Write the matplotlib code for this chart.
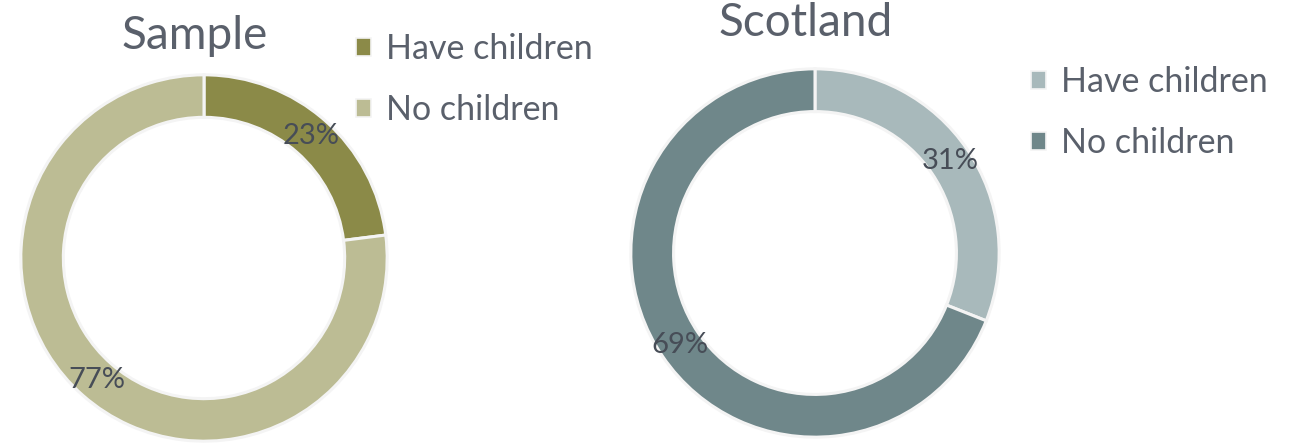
import matplotlib
matplotlib.use("Agg")
import matplotlib.pyplot as plt
from matplotlib.patches import Patch

plt.rcParams['font.family'] = ['Lato', 'DejaVu Sans']

categories = ["Have children", "No children"]
sample_values = [23, 77]
scotland_values = [31, 69]
titles = ["Sample", "Scotland"]

sample_colors = ["#8B8A48", "#BCBC94"]
scotland_colors = ["#A8B9BB", "#6F878A"]

TEXT = "#5A606B"
LABEL = "#474D57"

W, H = 1299, 446
fig = plt.figure(figsize=(W / 100, H / 100), dpi=100)


def px_axes(left, top, size):
    return fig.add_axes([left / W, (H - top - size) / H, size / W, size / H])


def donut(ax, values, colors):
    wedges, _, autotexts = ax.pie(
        values, colors=colors, startangle=90, counterclock=False,
        radius=1.0, autopct=lambda p: f"{p:.0f}%", pctdistance=0.885,
        wedgeprops=dict(width=0.232, edgecolor="#F4F4F4", linewidth=2.2),
        textprops=dict(fontsize=21, color=LABEL),
    )
    ax.set_xlim(-1.01, 1.01)
    ax.set_ylim(-1.01, 1.01)
    ax.set_aspect("equal")
    ax.axis("off")
    return wedges


ax1 = px_axes(19, 73, 370)
donut(ax1, sample_values, sample_colors)
ax2 = px_axes(629, 67, 372)
donut(ax2, scotland_values, scotland_colors)

fig.text(195 / W, 1 - 36 / H, titles[0], fontsize=33, color=TEXT,
         ha="center", va="center")
fig.text(806 / W, 1 - 23 / H, titles[1], fontsize=33, color=TEXT,
         ha="center", va="center")


def legend(colors, x, y):
    handles = [Patch(facecolor=c, edgecolor="#F4F4F4", linewidth=1.2) for c in colors]
    fig.legend(handles, categories, loc="upper left",
               bbox_to_anchor=(x / W, 1 - y / H), frameon=False,
               fontsize=24.5, labelcolor=TEXT, handlelength=0.45,
               handleheight=0.45, handletextpad=0.42, labelspacing=0.85,
               borderpad=0, borderaxespad=0)


legend(sample_colors, 356, 33)
legend(scotland_colors, 1031, 66)

fig.savefig("out.png", dpi=100, facecolor="white")
